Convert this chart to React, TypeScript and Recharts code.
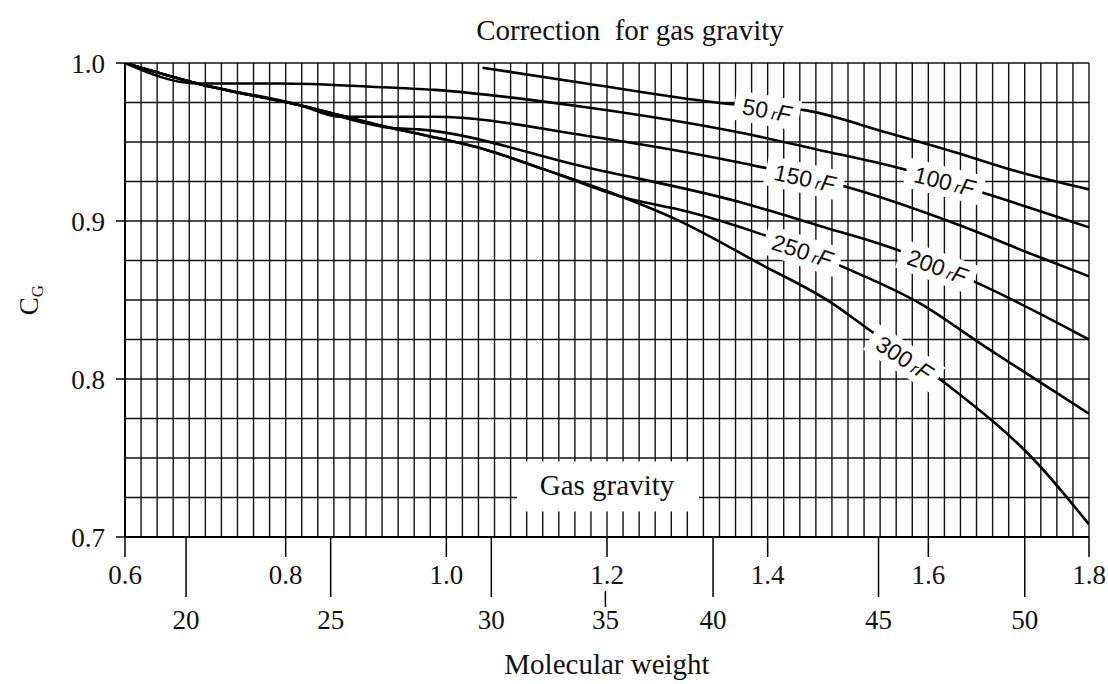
import React from 'react';
import {
  LineChart, Line, XAxis, YAxis, CartesianGrid, ReferenceDot, Label,
} from 'recharts';

// gas gravity (x) / correction factor C_G (y)
const g50 = [1.045, 1.174, 1.352, 1.448, 1.548, 1.63, 1.713, 1.8];
const c50 = [0.997, 0.987, 0.974, 0.97, 0.956, 0.944, 0.931, 0.92];

const g100 = [0.6, 0.69, 0.794, 0.906, 0.985, 1.174, 1.365, 1.464, 1.56, 1.667, 1.8];
const c100 = [1.0, 0.987, 0.987, 0.985, 0.983, 0.972, 0.956, 0.945, 0.934, 0.918, 0.896];

const g150 = [0.6, 0.69, 0.82, 0.866, 0.985, 1.174, 1.365, 1.502, 1.63, 1.734, 1.8];
const c150 = [1.0, 0.987, 0.973, 0.966, 0.966, 0.954, 0.937, 0.921, 0.899, 0.878, 0.865];

const g200 = [0.6, 0.69, 0.82, 0.93, 0.966, 1.174, 1.365, 1.464, 1.56, 1.66, 1.8];
const c200 = [1.0, 0.987, 0.973, 0.959, 0.958, 0.934, 0.912, 0.897, 0.882, 0.861, 0.825];

const g250 = [0.6, 0.69, 0.82, 0.93, 0.976, 1.05, 1.12, 1.22, 1.3, 1.39, 1.498, 1.589, 1.672, 1.8];
const c250 = [1.0, 0.987, 0.973, 0.959, 0.954, 0.945, 0.933, 0.915, 0.906, 0.892, 0.87, 0.848, 0.82, 0.778];

const g300 = [0.6, 0.69, 0.82, 0.93, 0.976, 1.05, 1.12, 1.22, 1.286, 1.39, 1.48, 1.524, 1.622, 1.735, 1.8];
const c300 = [1.0, 0.987, 0.973, 0.959, 0.954, 0.945, 0.933, 0.915, 0.901, 0.873, 0.848, 0.832, 0.797, 0.747, 0.708];

const gravityTicks = [0.6, 0.8, 1.0, 1.2, 1.4, 1.6, 1.8];
const cTicks = [0.7, 0.8, 0.9, 1.0];

// molecular weight scale printed under the gravity scale (hand drawn, so not exactly 28.97*SG)
const mwLabels = ['20', '25', '30', '35', '40', '45', '50'];
const mwAtGravity = [0.676, 0.856, 1.056, 1.198, 1.332, 1.538, 1.72];

// curve labels
const tempLabels = ['50', '100', '150', '200', '250', '300'];
const tempLabelG = [1.399, 1.62, 1.446, 1.611, 1.443, 1.57];
const tempLabelC = [0.97, 0.925, 0.927, 0.871, 0.881, 0.813];
const tempLabelAngle = [10, 14, 12, 20, 18, 33];

const zip = (g: number[], c: number[]) => g.map((x, i) => ({ g: x, c: c[i] }));

const series = [
  { key: '50', data: zip(g50, c50) },
  { key: '100', data: zip(g100, c100) },
  { key: '150', data: zip(g150, c150) },
  { key: '200', data: zip(g200, c200) },
  { key: '250', data: zip(g250, c250) },
  { key: '300', data: zip(g300, c300) },
];

const vGrid = Array.from({ length: 61 }, (_, i) => +(0.6 + i * 0.02).toFixed(2));
const hGrid = Array.from({ length: 13 }, (_, i) => +(0.7 + i * 0.025).toFixed(3));

const SERIF = 'Liberation Serif, Times New Roman, DejaVu Serif, serif';
const SANS = 'Liberation Sans, Arial, sans-serif';

function MwTick(props: any) {
  const { x, y, payload } = props;
  // where the MW tick falls on a gravity label, only a stub under the label is drawn
  const underLabel = gravityTicks.some((g) => Math.abs(g - payload.value) < 0.01);
  return (
    <g>
      {underLabel ? (
        <line x1={x} x2={x} y1={y - 6} y2={y + 10} stroke="#000" strokeWidth={1.5} />
      ) : (
        <line x1={x} x2={x} y1={y - 60} y2={y} stroke="#000" strokeWidth={1.5} />
      )}
      <text x={x} y={y + 32} textAnchor="middle" fontSize={27} style={{ fontFamily: SERIF }} fill="#111">
        {mwLabels[payload.index]}
      </text>
    </g>
  );
}

function tempLabelShape(text: string, angle: number) {
  return (props: any) => {
    const { cx, cy } = props;
    const w = text.length * 13 + 40;
    return (
      <g transform={`translate(${cx},${cy}) rotate(${angle})`}>
        <rect x={-w / 2} y={-15} width={w} height={30} fill="#fff" />
        <text x={0} y={8} textAnchor="middle" style={{ fontFamily: SANS }} fontSize={23} fill="#111">
          {text}
          <tspan fontSize={16} fontStyle="italic" dx={4}>r</tspan>
          <tspan fontStyle="italic">F</tspan>
        </text>
      </g>
    );
  };
}

function gasGravityShape(props: any) {
  const { cx, cy } = props;
  return (
    <g>
      <rect x={cx - 90} y={cy - 25} width={182} height={50} fill="#fff" />
      <text x={cx} y={cy + 9} textAnchor="middle" style={{ fontFamily: SERIF }} fontSize={29} fill="#111">
        Gas gravity
      </text>
    </g>
  );
}

export default function App() {
  return (
    <div style={{ position: 'absolute', left: 0, top: 0, width: 1108, height: 684, background: '#fff', fontFamily: SERIF }}>
      <LineChart width={1108} height={684} margin={{ top: 63, right: 19, bottom: 0, left: 0 }}>
        <CartesianGrid
          xAxisId="a_sg"
          verticalValues={vGrid}
          horizontalValues={hGrid}
          stroke="#111"
          strokeWidth={1.4}
        />
        <XAxis
          xAxisId="a_sg"
          type="number"
          dataKey="g"
          domain={[0.6, 1.8]}
          ticks={gravityTicks}
          interval={0}
          allowDataOverflow
          height={60}
          tickSize={20}
          tickMargin={8}
          tickFormatter={(v) => Number(v).toFixed(1)}
          tick={{ fontSize: 27, fill: '#111', style: { fontFamily: SERIF } }}
          axisLine={{ stroke: '#000', strokeWidth: 2 }}
          tickLine={{ stroke: '#000', strokeWidth: 1.5 }}
        />
        <XAxis
          xAxisId="b_mw"
          type="number"
          dataKey="g"
          domain={[0.6, 1.8]}
          ticks={mwAtGravity}
          interval={0}
          allowDataOverflow
          height={87}
          tickSize={0}
          tickMargin={0}
          axisLine={false}
          tickLine={false}
          tick={<MwTick />}
        >
          <Label
            value="Molecular weight"
            position="insideBottom"
            offset={10}
            style={{ fontSize: 29, fontFamily: SERIF, fill: '#111' }}
          />
        </XAxis>
        <YAxis
          type="number"
          domain={[0.7, 1.0]}
          ticks={cTicks}
          interval={0}
          allowDataOverflow
          width={125}
          tickSize={9}
          tickMargin={11}
          tickFormatter={(v) => Number(v).toFixed(1)}
          tick={{ fontSize: 27, fill: '#111', style: { fontFamily: SERIF } }}
          axisLine={{ stroke: '#000', strokeWidth: 2 }}
          tickLine={{ stroke: '#000', strokeWidth: 1.5 }}
        />
        {series.map((s) => (
          <Line
            key={s.key}
            xAxisId="a_sg"
            data={s.data}
            dataKey="c"
            type="monotone"
            stroke="#000"
            strokeWidth={2.6}
            dot={false}
            activeDot={false}
            isAnimationActive={false}
          />
        ))}
        {tempLabels.map((t, i) => (
          <ReferenceDot
            key={t}
            xAxisId="a_sg"
            x={tempLabelG[i]}
            y={tempLabelC[i]}
            r={0}
            zIndex={2000}
            shape={tempLabelShape(t, tempLabelAngle[i])}
          />
        ))}
        <ReferenceDot xAxisId="a_sg" x={1.2} y={0.732} r={0} zIndex={2000} shape={gasGravityShape} />
        <text x={630} y={40} textAnchor="middle" fontSize={29} fill="#111" style={{ whiteSpace: 'pre', fontFamily: SERIF }}>
          Correction  for gas gravity
        </text>
        <text transform="translate(38,300) rotate(-90)" textAnchor="middle" fontSize={27} fill="#111" style={{ fontFamily: SERIF }}>
          C<tspan fontSize={17} dy={5}>G</tspan>
        </text>
      </LineChart>
    </div>
  );
}
